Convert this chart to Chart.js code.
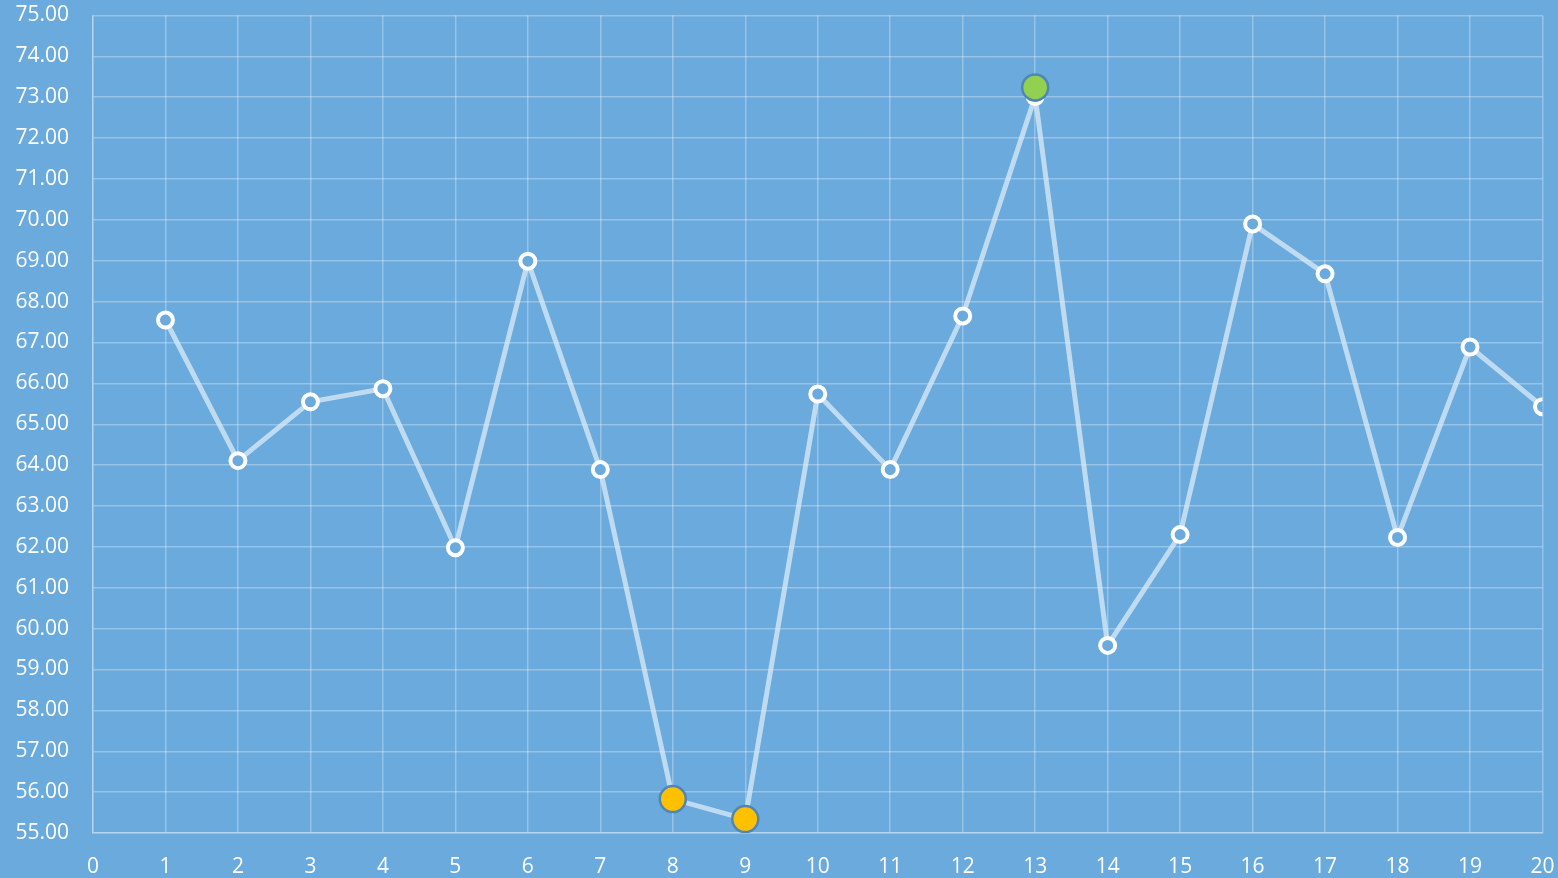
<!DOCTYPE html>
<html>
<head>
<meta charset="utf-8">
<script src="https://cdn.jsdelivr.net/npm/chart.js@4/dist/chart.umd.min.js"></script>
<style>
  html, body { margin: 0; padding: 0; background: #6aaadc; }
  #wrap { width: 1558px; height: 878px; position: relative; }
</style>
</head>
<body>
<div id="wrap"><canvas id="chart"></canvas></div>
<script>
// x positions and values
const xValues = [1, 2, 3, 4, 5, 6, 7, 8, 9, 10, 11, 12, 13, 14, 15, 16, 17, 18, 19, 20];
const yValues = [67.55, 64.11, 65.55, 65.87, 61.98, 68.99, 63.89, 55.83, 55.34, 65.74,
                 63.89, 67.65, 73.02, 59.59, 62.30, 69.90, 68.68, 62.23, 66.89, 65.43];

// highlighted markers: lowest points and the peak
const lowX = [8, 9];
const lowY = [55.83, 55.34];
const highX = [13];
const highY = [73.24];

const yMin = 55, yMax = 75, xMin = 0, xMax = 20;

const toPoints = (xs, ys) => xs.map((x, i) => ({ x: x, y: ys[i] }));

const gridColor = "rgba(255,255,255,0.3)";
const tickFont = { family: "'Open Sans', 'Liberation Sans', sans-serif", size: 21 };

new Chart(document.getElementById("chart").getContext("2d"), {
  type: "line",
  data: {
    datasets: [
      {
        label: "High",
        data: toPoints(highX, highY),
        showLine: false,
        pointRadius: 13,
        pointBackgroundColor: "#92d050",
        pointBorderColor: "#4f86b5",
        pointBorderWidth: 2.5,
        order: 0,
      },
      {
        label: "Low",
        data: toPoints(lowX, lowY),
        showLine: false,
        pointRadius: 13,
        pointBackgroundColor: "#ffc000",
        pointBorderColor: "#4f86b5",
        pointBorderWidth: 2.5,
        order: 0,
      },
      {
        label: "Values",
        data: toPoints(xValues, yValues),
        borderColor: "rgba(220,235,248,0.75)",
        borderWidth: 5,
        tension: 0,
        pointRadius: 7.5,
        pointBorderWidth: 4,
        pointBorderColor: "#ffffff",
        pointBackgroundColor: "#6aaadc",
        order: 1,
      },
    ],
  },
  options: {
    responsive: true,
    maintainAspectRatio: false,
    animation: false,
    layout: { padding: { top: 14, right: 15, bottom: 0, left: 0 } },
    plugins: {
      legend: { display: false },
      tooltip: { enabled: false },
    },
    scales: {
      x: {
        type: "linear",
        min: xMin,
        max: xMax,
        ticks: { stepSize: 1, color: "#ffffff", font: tickFont, padding: 21, maxRotation: 0 },
        grid: { color: gridColor, drawTicks: false, lineWidth: 1.5 },
        border: { color: gridColor, width: 1.5 },
        afterFit: (scale) => {
          scale.height = 45;
          scale.paddingLeft = 0;
          scale.paddingRight = 0;
        },
      },
      y: {
        min: yMin,
        max: yMax,
        ticks: {
          stepSize: 1,
          color: "#ffffff",
          font: tickFont,
          padding: 24,
          callback: (v) => v.toFixed(2),
        },
        grid: { color: gridColor, drawTicks: false, lineWidth: 1.5 },
        border: { color: gridColor, width: 1.5 },
        afterFit: (scale) => {
          scale.width = 93;
          scale.paddingTop = 0;
          scale.paddingBottom = 0;
        },
      },
    },
  },
});
</script>
</body>
</html>
